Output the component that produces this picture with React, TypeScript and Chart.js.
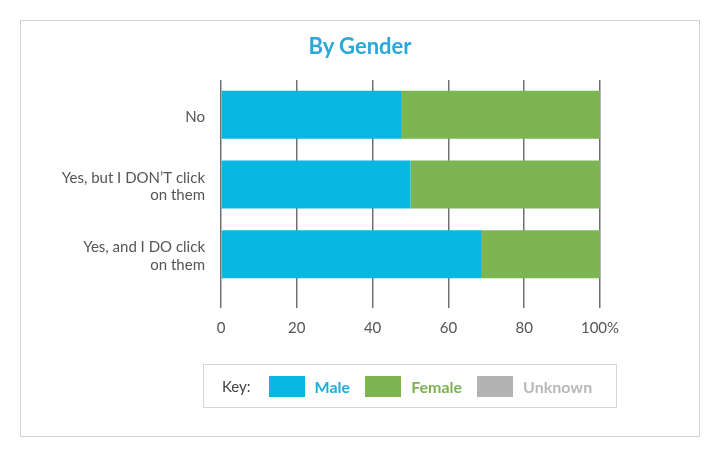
import Chart from 'chart.js/auto';
import { useEffect, useRef } from 'react';

const chartTitle = 'By Gender';
const categories = [['No'], ['Yes, but I DON\u2019T click', 'on them'], ['Yes, and I DO click', 'on them']];
const seriesNames = ['Male', 'Female', 'Unknown'];
const maleValues = [47.5, 50, 68.6];
const femaleValues = [52.5, 50, 31.4];
const unknownValues = [0, 0, 0];
const tickLabels = ['0', '20', '40', '60', '80', '100%'];

const barColors = ['#0ab7e0', '#7db552', '#b3b3b3'];
const textColors = ['#1ab0de', '#7cb350', '#b8b8b8'];
const FONT = 'Lato, "Open Sans", sans-serif';

export default function App() {
	const canvasRef = useRef<HTMLCanvasElement | null>(null);
	useEffect(() => {
		if (!canvasRef.current) return;
		const chart = new Chart(canvasRef.current, {
			type: 'bar',
			data: {
				labels: categories,
				datasets: [maleValues, femaleValues, unknownValues].map((d, i) => ({
					label: seriesNames[i],
					data: d,
					backgroundColor: barColors[i],
					borderWidth: 0,
					categoryPercentage: 1,
					barPercentage: 0.69,
				})),
			},
			options: {
				indexAxis: 'y',
				animation: false,
				responsive: false,
				layout: { padding: { left: 0, right: 120, top: 80, bottom: 119 } },
				plugins: {
					legend: { display: false },
					tooltip: { enabled: false },
				},
				scales: {
					x: {
						stacked: true,
						min: 0,
						max: 100,
						afterFit: (s: any) => { s.height = 50; },
						ticks: {
							stepSize: 20,
							color: '#555',
							padding: 11,
							font: { family: FONT, size: 15 },
							callback: (_v: any, i: number) => tickLabels[i],
						},
						grid: { color: '#707070', lineWidth: 1.5, tickLength: 19, tickColor: '#707070' },
						border: { display: false },
					},
					y: {
						stacked: true,
						afterFit: (s: any) => { s.width = 221; },
						ticks: { color: '#555', padding: 8, labelOffset: 2, font: { family: FONT, size: 15, lineHeight: 1.17 } },
						grid: { display: false },
						border: { display: false },
					},
				},
			},
		});
		return () => chart.destroy();
	}, []);

	return (
		<div style={{ position: 'absolute', left: 0, top: 0, width: 720, height: 458, background: '#fff', fontFamily: FONT }}>
			<div style={{ position: 'absolute', left: 20, top: 20, width: 678, height: 415, border: '1px solid #d2d2d2' }} />
			<canvas ref={canvasRef} width={720} height={458} style={{ position: 'absolute', left: 0, top: 0 }}></canvas>
			<div style={{ position: 'absolute', left: 0, width: 720, top: 32, textAlign: 'center', fontSize: 22, fontWeight: 'bold', color: '#2aa8d8', lineHeight: '28px' }}>{chartTitle}</div>
			<div style={{ position: 'absolute', left: 203, top: 364, width: 414, height: 44, border: '1px solid #d6d6d6', display: 'flex', alignItems: 'center', paddingLeft: 18, boxSizing: 'border-box' }}>
				<span style={{ fontSize: 15, color: '#444', marginRight: 18 }}>Key:</span>
				{seriesNames.map((n, i) => (
					<span key={n} style={{ display: 'flex', alignItems: 'center', marginRight: 15 }}>
						<span style={{ width: 36, height: 21, background: barColors[i], marginRight: 10 }} />
						<span style={{ fontSize: 16, fontWeight: 'bold', color: textColors[i] }}>{n}</span>
					</span>
				))}
			</div>
		</div>
	);
}
